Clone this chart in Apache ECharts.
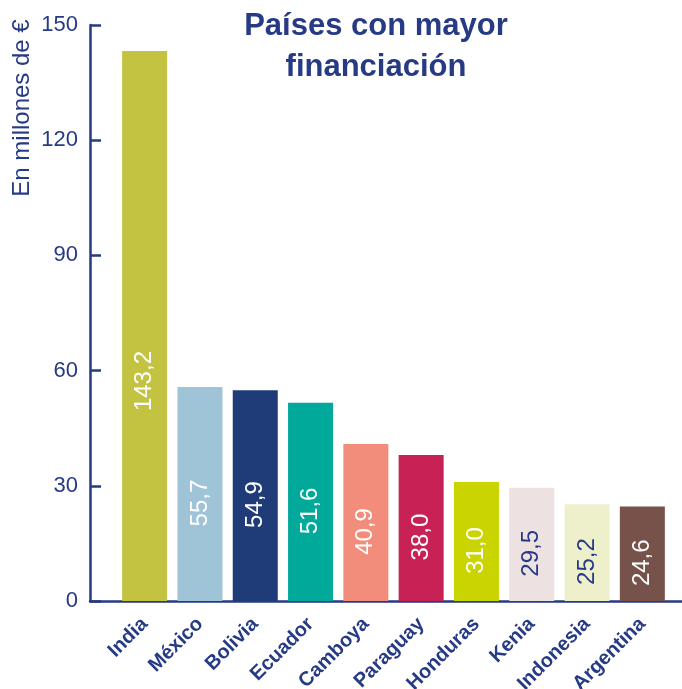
<!DOCTYPE html>
<html>
<head>
<meta charset="utf-8">
<script src="https://cdn.jsdelivr.net/npm/echarts@6/dist/echarts.min.js"></script>
<style>
    html, body { margin: 0; padding: 0; background: #fff; }
    #chart { width: 682px; height: 689px; }
</style>
</head>
<body>
<div id="chart"></div>
<script>
// 数据
const countries = ['India', 'México', 'Bolivia', 'Ecuador', 'Camboya', 'Paraguay', 'Honduras', 'Kenia', 'Indonesia', 'Argentina'];
const amounts = [143.2, 55.7, 54.9, 51.6, 40.9, 38.0, 31.0, 29.5, 25.2, 24.6];
const barColors = ['#c4c341', '#9fc4d8', '#1f3b78', '#00a99a', '#f28d7b', '#c82156', '#cad400', '#ede1e1', '#eef0cc', '#76524b'];
const yTicks = [0, 30, 60, 90, 120, 150];

const NAVY = '#263a85';
const FONT = "'Liberation Sans', Arial, sans-serif";

// 浅色柱子用深色文字
const isLight = (hex) => {
    const r = parseInt(hex.slice(1, 3), 16);
    const g = parseInt(hex.slice(3, 5), 16);
    const b = parseInt(hex.slice(5, 7), 16);
    return (0.299 * r + 0.587 * g + 0.114 * b) > 215;
};

// 标签旋转90度后，offset 的 x 方向朝上
const barData = amounts.map((v, i) => ({
    value: v,
    itemStyle: { color: barColors[i] },
    label: {
        color: isLight(barColors[i]) ? NAVY : '#ffffff',
        offset: [i === 0 ? -55 : -9, 0]
    }
}));

const chart = echarts.init(document.getElementById('chart'));

chart.setOption({
    animation: false,
    graphic: [
        {
            type: 'text',
            x: 376,
            y: 6,
            style: {
                text: 'Países con mayor\nfinanciación',
                font: 'bold 31px ' + FONT,
                fill: NAVY,
                align: 'center',
                verticalAlign: 'top',
                lineHeight: 41
            }
        },
        {
            type: 'text',
            x: 22,
            y: 108,
            rotation: Math.PI / 2,
            style: {
                text: 'En millones de €',
                font: '24px ' + FONT,
                fill: NAVY,
                align: 'center',
                verticalAlign: 'middle'
            }
        }
    ],
    grid: [
        { left: 90, right: 0, top: 25, bottom: 88, outerBoundsMode: 'none' },
        { left: 117, right: 12, top: 25, bottom: 88, outerBoundsMode: 'none' }
    ],
    xAxis: [
        {
            gridIndex: 0,
            type: 'value',
            min: 0,
            max: 1,
            axisLine: { show: true, lineStyle: { color: NAVY, width: 2.5 } },
            axisTick: { show: false },
            axisLabel: { show: false },
            splitLine: { show: false }
        },
        {
            gridIndex: 1,
            type: 'category',
            data: countries,
            axisLine: { show: false },
            axisTick: { show: false },
            axisLabel: {
                rotate: 45,
                margin: 20,
                interval: 0,
                fontFamily: FONT,
                fontSize: 20,
                fontWeight: 'bold',
                color: NAVY
            }
        }
    ],
    yAxis: [
        {
            gridIndex: 0,
            type: 'value',
            min: yTicks[0],
            max: yTicks[yTicks.length - 1],
            interval: yTicks[1] - yTicks[0],
            axisLine: { show: true, lineStyle: { color: NAVY, width: 2.5 } },
            axisTick: { show: true, inside: true, length: 11, lineStyle: { color: NAVY, width: 2.5 } },
            axisLabel: {
                margin: 12,
                fontFamily: FONT,
                fontSize: 22,
                color: NAVY
            },
            splitLine: { show: false }
        },
        {
            gridIndex: 1,
            type: 'value',
            min: yTicks[0],
            max: yTicks[yTicks.length - 1],
            show: false
        }
    ],
    series: [{
        type: 'bar',
        xAxisIndex: 1,
        yAxisIndex: 1,
        barWidth: 45,
        data: barData,
        label: {
            show: true,
            position: 'inside',
            rotate: 90,
            fontFamily: FONT,
            fontSize: 24,
            formatter: (p) => p.value.toFixed(1).replace('.', ',')
        }
    }]
});
</script>
</body>
</html>
